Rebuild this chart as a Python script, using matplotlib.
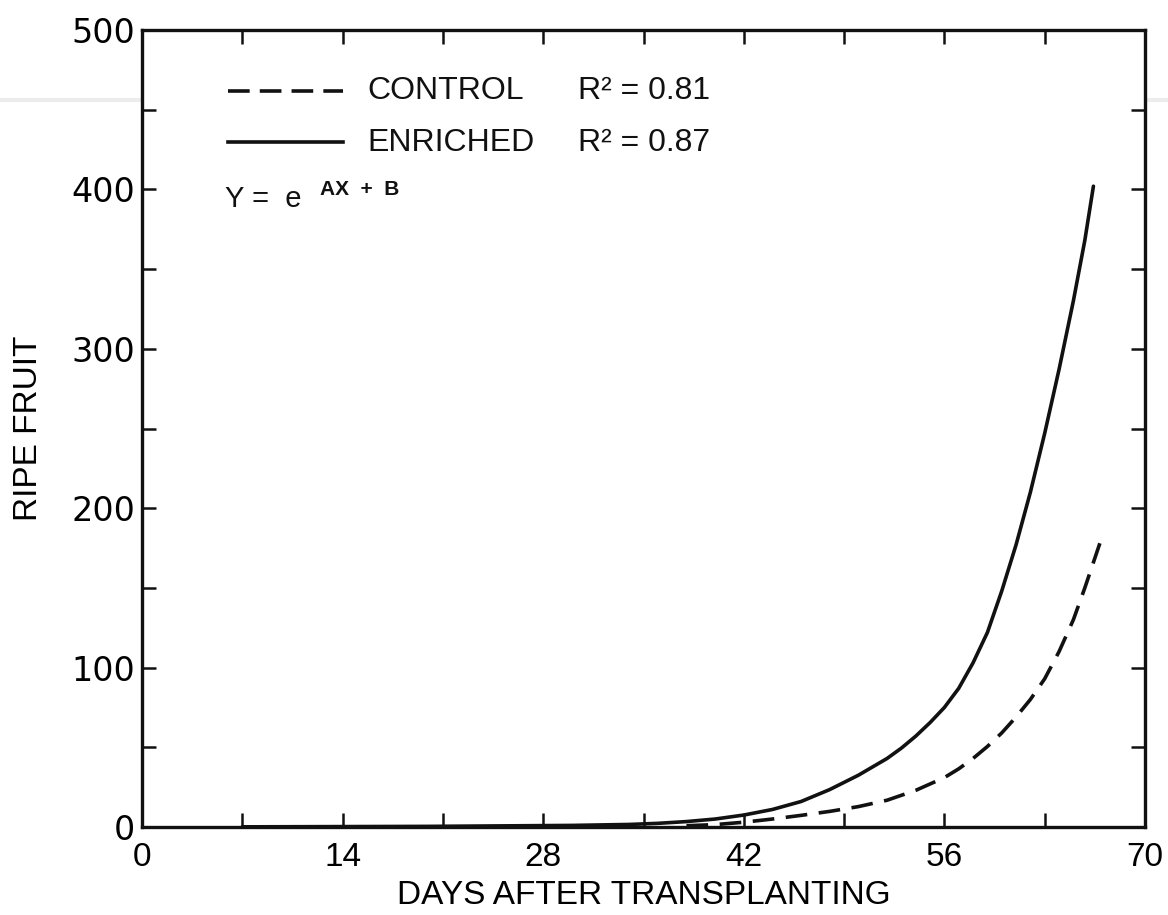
import matplotlib
matplotlib.use("Agg")
import matplotlib.pyplot as plt
from matplotlib.ticker import MultipleLocator
from matplotlib.lines import Line2D

# ---- data ----
enriched_days = [7, 20, 30, 34, 36, 38, 40, 42, 44, 46, 48, 50, 52, 53, 54, 55, 56, 57, 58, 59,
                 60, 61, 62, 63, 64, 65, 65.8, 66.4]
enriched_fruit = [0.1, 0.4, 1.0, 1.6, 2.3, 3.4, 5.0, 7.5, 11, 16, 23.5, 32.5, 43, 49.5, 57, 65.5, 75, 87, 103, 122,
                  148, 177, 210, 247, 287, 330, 368, 402]

control_days = [38, 40, 42, 44, 46, 48, 50, 52, 54, 55, 56, 57, 58, 59, 60, 61, 62, 63, 64, 65, 65.8, 66.4, 66.85]
control_fruit = [0.8, 1.5, 3, 5, 7.3, 9.8, 12.8, 16.8, 23, 27, 31, 36.5, 43, 50.5, 59, 69, 80, 93, 110, 130, 150, 166, 178]

x_ticks = [0, 14, 28, 42, 56, 70]
y_ticks = [0, 100, 200, 300, 400, 500]
legend_labels = ["CONTROL", "ENRICHED"]
r2_labels = ["R\u00b2 = 0.81", "R\u00b2 = 0.87"]

narrow = ["Liberation Sans Narrow", "Liberation Sans", "DejaVu Sans"]
wide = ["DejaVu Sans"]

fig = plt.figure(figsize=(11.68, 9.15), dpi=100)
ax = fig.add_axes([142/1168, 88/915, (1145-142)/1168, (827-30)/915])

ink = "#111111"
ax.plot(enriched_days, enriched_fruit, color=ink, lw=2.6, solid_capstyle="round", solid_joinstyle="round")
ax.plot(control_days, control_fruit, color=ink, lw=2.6, linestyle=(0, (6.0, 3.2)), dash_capstyle="butt")

ax.set_xlim(0, 70)
ax.set_ylim(0, 500)
ax.xaxis.set_minor_locator(MultipleLocator(7))
ax.yaxis.set_minor_locator(MultipleLocator(50))
ax.set_xticks(x_ticks)
ax.set_yticks(y_ticks)
ax.set_xticklabels([str(v) for v in x_ticks], fontfamily=narrow, fontsize=24)
ax.set_yticklabels([str(v) for v in y_ticks], fontfamily=wide, fontsize=24)

ax.tick_params(which="both", direction="in", top=True, right=True, length=10, width=1.8, color=ink)
ax.tick_params(axis="x", which="major", pad=11)
ax.tick_params(axis="y", which="major", pad=5)
for sp in ax.spines.values():
    sp.set_linewidth(2.4)
    sp.set_color(ink)

ax.set_xlabel("DAYS AFTER TRANSPLANTING", fontfamily=narrow, fontsize=24)
ax.set_ylabel("RIPE FRUIT", fontfamily=narrow, fontsize=24)
ax.xaxis.set_label_coords(0.5, (827 - 880) / 797)
ax.yaxis.set_label_coords((44 - 142) / 1003, 0.5)

# legend drawn as in the original (manual key)
ax.add_line(Line2D([6.0, 14.0], [462, 462], color=ink, lw=2.6, linestyle=(0, (6.0, 2.8))))
ax.add_line(Line2D([6.0, 14.0], [430, 430], color=ink, lw=2.6))
for yv, lab, r2 in zip([462, 429], legend_labels, r2_labels):
    ax.text(15.7, yv, lab, fontfamily=narrow, fontsize=23, va="center", ha="left", color=ink)
    ax.text(30.4, yv, r2, fontfamily=narrow, fontsize=23, va="center", ha="left", color=ink)

ax.text(5.8, 394, "Y =  e", fontfamily=narrow, fontsize=21, va="center", ha="left", color=ink)
ax.text(12.4, 400, "AX  +  B", fontfamily=narrow, fontsize=15, va="center", ha="left",
        color=ink, fontweight="bold")

# faint scan streak
fig.add_artist(Line2D([0, 1], [1 - 100/915, 1 - 100/915], transform=fig.transFigure,
                      color="#ececec", lw=3, zorder=-5))

fig.savefig("out.png", dpi=100, facecolor="white")
